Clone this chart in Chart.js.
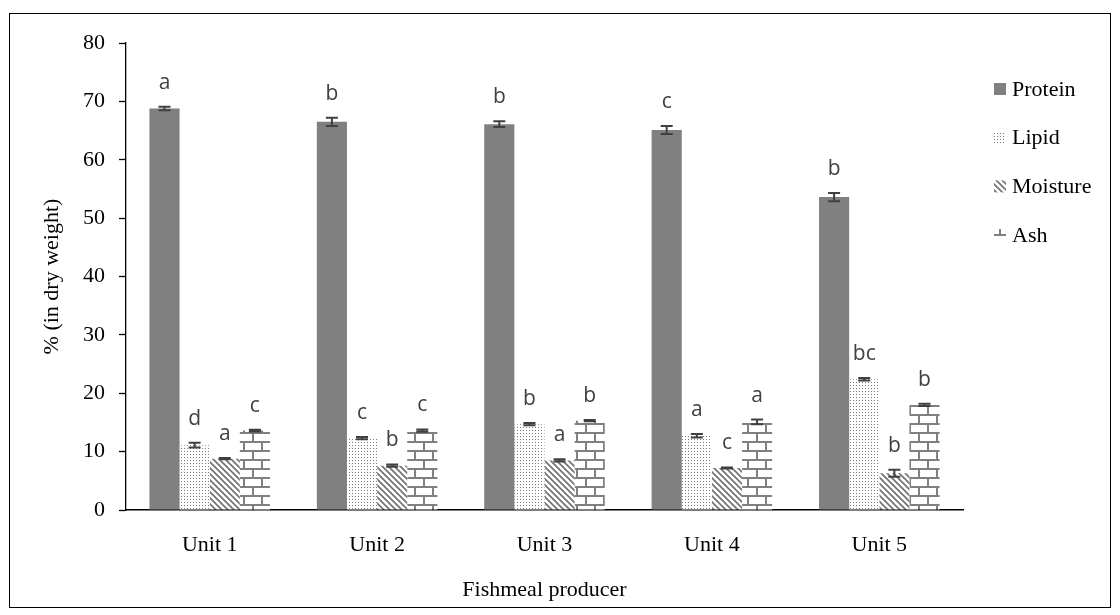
<!DOCTYPE html>
<html>
<head>
<meta charset="utf-8">
<script src="https://cdn.jsdelivr.net/npm/chart.js@4.4.0/dist/chart.umd.min.js"></script>
<style>
    html, body { margin: 0; padding: 0; background: #fff; }
    #wrap { position: relative; width: 1120px; height: 615px; }
    #frame { position: absolute; left: 9px; top: 13px; width: 1102px; height: 595px;
             border: 1.5px solid #000; box-sizing: border-box; pointer-events: none; }
</style>
</head>
<body>
<div id="wrap">
    <canvas id="chart" width="1120" height="615"></canvas>
    <div id="frame"></div>
</div>
<script>
const categories = ['Unit 1', 'Unit 2', 'Unit 3', 'Unit 4', 'Unit 5'];
const seriesNames = ['Protein', 'Lipid', 'Moisture', 'Ash'];

const protein = [68.8, 66.5, 66.1, 65.1, 53.6];
const lipid = [11.1, 12.3, 14.7, 12.7, 22.4];
const moisture = [8.8, 7.6, 8.5, 7.2, 6.3];
const ash = [13.6, 13.6, 15.3, 15.1, 18.0];

const proteinErr = [0.3, 0.7, 0.5, 0.7, 0.7];
const lipidErr = [0.4, 0.2, 0.2, 0.3, 0.2];
const moistureErr = [0.1, 0.2, 0.2, 0.1, 0.6];
const ashErr = [0.15, 0.2, 0.1, 0.4, 0.2];

const proteinLetters = ['a', 'b', 'b', 'c', 'b'];
const lipidLetters = ['d', 'c', 'b', 'a', 'bc'];
const moistureLetters = ['a', 'b', 'a', 'c', 'b'];
const ashLetters = ['c', 'c', 'b', 'a', 'b'];

const yTicks = [0, 10, 20, 30, 40, 50, 60, 70, 80];

const serif = "'Liberation Serif', 'Times New Roman', serif";

// fill patterns
const makePattern = (w, h, draw) => {
    const c = document.createElement('canvas');
    c.width = w; c.height = h;
    const g = c.getContext('2d');
    g.fillStyle = '#fff';
    g.fillRect(0, 0, w, h);
    draw(g);
    return g.createPattern(c, 'repeat');
};

const dotFill = makePattern(3, 3, g => {
    g.fillStyle = '#7a7a7a';
    g.fillRect(1, 1, 1, 1);
});

const diagFill = makePattern(6, 6, g => {
    g.strokeStyle = '#707070';
    g.lineWidth = 1.6;
    g.beginPath();
    g.moveTo(-1, -1); g.lineTo(7, 7);
    g.moveTo(-1, 5); g.lineTo(1, 7);
    g.moveTo(5, -1); g.lineTo(7, 1);
    g.stroke();
});

const brickFill = makePattern(18, 18, g => {
    g.fillStyle = '#808080';
    g.fillRect(0, 0, 18, 2);
    g.fillRect(0, 9, 18, 2);
    g.fillRect(0, 0, 2, 9);
    g.fillRect(9, 9, 2, 9);
});

const seriesValues = [protein, lipid, moisture, ash];
const seriesErrors = [proteinErr, lipidErr, moistureErr, ashErr];
const seriesLetters = [proteinLetters, lipidLetters, moistureLetters, ashLetters];
const seriesFills = ['#808080', dotFill, diagFill, brickFill];

// error bars and significance letters
const errorBars = {
    id: 'errorBars',
    afterDatasetsDraw(chart) {
        const { ctx, scales: { y } } = chart;
        ctx.save();
        ctx.strokeStyle = '#404040';
        ctx.lineWidth = 2;
        ctx.fillStyle = '#404040';
        ctx.font = "21px 'Open Sans', sans-serif";
        ctx.textAlign = 'center';
        ctx.textBaseline = 'middle';
        chart.data.datasets.forEach((ds, i) => {
            chart.getDatasetMeta(i).data.forEach((bar, j) => {
                const v = seriesValues[i][j], e = seriesErrors[i][j];
                const top = y.getPixelForValue(v + e);
                const bot = y.getPixelForValue(v - e);
                ctx.beginPath();
                ctx.moveTo(bar.x, top); ctx.lineTo(bar.x, bot);
                ctx.moveTo(bar.x - 6, top); ctx.lineTo(bar.x + 6, top);
                ctx.moveTo(bar.x - 6, bot); ctx.lineTo(bar.x + 6, bot);
                ctx.stroke();
                ctx.fillText(seriesLetters[i][j], bar.x, top - 24);
            });
        });
        ctx.restore();
    }
};

// legend on the right
const sideLegend = {
    id: 'sideLegend',
    afterDraw(chart) {
        const { ctx } = chart;
        ctx.save();
        ctx.font = '22px ' + serif;
        ctx.textBaseline = 'middle';
        ctx.textAlign = 'left';
        seriesNames.forEach((name, i) => {
            const cy = 89 + i * 48.7;
            ctx.fillStyle = seriesFills[i];
            ctx.fillRect(994, cy - 6, 12, 12);
            ctx.fillStyle = '#000';
            ctx.fillText(name, 1012, cy + 1);
        });
        ctx.restore();
    }
};

const ctx = document.getElementById('chart').getContext('2d');
new Chart(ctx, {
    type: 'bar',
    data: {
        labels: categories,
        datasets: seriesNames.map((name, i) => ({
            label: name,
            data: seriesValues[i],
            backgroundColor: seriesFills[i],
            borderWidth: 0,
            categoryPercentage: 0.72,
            barPercentage: 1.0
        }))
    },
    options: {
        responsive: false,
        animation: false,
        layout: { padding: { top: 43, right: 157, left: 0, bottom: 0 } },
        plugins: {
            legend: { display: false },
            tooltip: { enabled: false }
        },
        scales: {
            x: {
                grid: { display: false },
                border: { color: '#000', width: 1.6 },
                ticks: { color: '#000', font: { family: serif, size: 22 }, padding: 14 },
                title: {
                    display: true,
                    text: 'Fishmeal producer',
                    color: '#000',
                    font: { family: serif, size: 22 },
                    padding: { top: 0, bottom: 12 }
                },
                afterFit: scale => { scale.height = 105; }
            },
            y: {
                min: 0,
                max: 80,
                afterBuildTicks: scale => { scale.ticks = yTicks.map(v => ({ value: v })); },
                grid: { drawOnChartArea: false, color: '#000', tickLength: 7, tickWidth: 1.3 },
                border: { color: '#000', width: 1.3 },
                ticks: { color: '#000', font: { family: serif, size: 22 }, padding: 14 },
                title: {
                    display: true,
                    text: '% (in dry weight)',
                    color: '#000',
                    font: { family: serif, size: 22 },
                    padding: { top: 39, bottom: 0 }
                },
                afterFit: scale => { scale.width = 126; }
            }
        }
    },
    plugins: [errorBars, sideLegend]
});
</script>
</body>
</html>
